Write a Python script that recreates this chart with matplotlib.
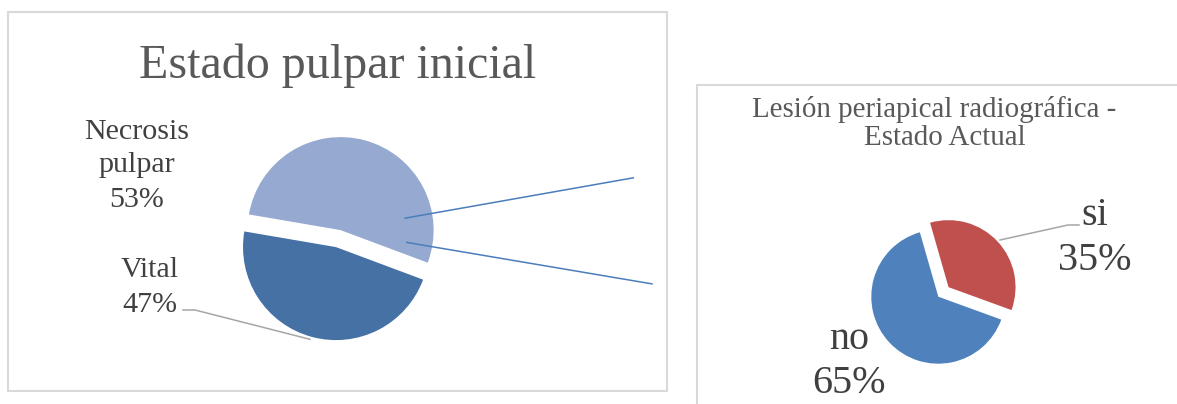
import matplotlib
matplotlib.use("Agg")
import matplotlib.pyplot as plt
from matplotlib.patches import Rectangle

# ---- data ----
left_title = "Estado pulpar inicial"
left_labels = ["Necrosis\npulpar", "Vital"]
left_values = [53, 47]
right_title = ["Lesión periapical radiográfica -", "Estado Actual"]
right_labels = ["si", "no"]
right_values = [35, 65]

W, H = 1177, 404
FONT = ["Liberation Serif", "DejaVu Serif"]
TITLE_C = "#595959"
LABEL_C = "#404040"
GRID_C = "#D9D9D9"
LEADER_C = "#A6A6A6"

fig = plt.figure(figsize=(W / 100, H / 100), dpi=100)
ax = fig.add_axes([0, 0, 1, 1])


def Y(y):
    return H - y


def px(p):
    return p * 72 / 100


# boxes
ax.add_patch(Rectangle((8, Y(391)), 667 - 8, 391 - 12, fill=False,
                       edgecolor=GRID_C, lw=1.5))
ax.add_patch(Rectangle((697, Y(420)), 600, 420 - 85, fill=False,
                       edgecolor=GRID_C, lw=1.5))

# ---- left pie ----  (explode is in data units = pixels here)
R1 = 93
ax.pie(left_values, colors=["#95A9D1", "#4671A5"], startangle=-20.5,
       counterclock=True, explode=[8.8, 8.8], radius=R1,
       center=(338.3, Y(238.6)), wedgeprops=dict(linewidth=0),
       frame=True)

# ---- right pie ----
R2 = 67
ax.pie(right_values, colors=["#C0504D", "#4F81BD"], startangle=-20,
       counterclock=True, explode=[14, 0.0], radius=R2,
       center=(938.3, Y(296.7)), wedgeprops=dict(linewidth=0),
       frame=True)

# stray blue connector lines on left chart
ax.plot([404.3, 634], [Y(218.3), Y(177.7)], color="#4A7EBB", lw=1.1,
        solid_capstyle="butt")
ax.plot([406, 652.7], [Y(242.3), Y(284)], color="#4A7EBB", lw=1.1,
        solid_capstyle="butt")

# leader lines
ax.plot([183, 195, 310], [Y(310), Y(310), Y(339.3)], color=LEADER_C, lw=1.1)
ax.plot([1000, 1068, 1079], [Y(240), Y(225), Y(225)], color=LEADER_C, lw=1.1)

# titles
ax.text(337.5, Y(78.3), left_title, ha="center", va="baseline",
        fontsize=px(48), color=TITLE_C, family=FONT)
ax.text(934, Y(116.7), right_title[0], ha="center", va="baseline",
        fontsize=px(29), color=TITLE_C, family=FONT)
ax.text(945, Y(145), right_title[1], ha="center", va="baseline",
        fontsize=px(29), color=TITLE_C, family=FONT)

# left data labels
nec_lines = left_labels[0].split("\n") + [f"{left_values[0]}%"]
for txt, yb in zip(nec_lines, [139.3, 171.7, 207.3]):
    ax.text(136.7, Y(yb), txt, ha="center", va="baseline",
            fontsize=px(30), color=LABEL_C, family=FONT)
for txt, yb in zip([left_labels[1], f"{left_values[1]}%"], [276.7, 311.7]):
    ax.text(150, Y(yb), txt, ha="center", va="baseline",
            fontsize=px(30), color=LABEL_C, family=FONT)

# right data labels
for txt, yb in zip([right_labels[0], f"{right_values[0]}%"], [225, 270]):
    ax.text(1095, Y(yb), txt, ha="center", va="baseline",
            fontsize=px(40), color=LABEL_C, family=FONT)
for txt, yb in zip([right_labels[1], f"{right_values[1]}%"], [349.3, 393.3]):
    ax.text(849, Y(yb), txt, ha="center", va="baseline",
            fontsize=px(40), color=LABEL_C, family=FONT)

ax.set_xlim(0, W)
ax.set_ylim(0, H)
ax.set_aspect("auto")
ax.set_axis_off()

fig.savefig("out.png", dpi=100, facecolor="white")
